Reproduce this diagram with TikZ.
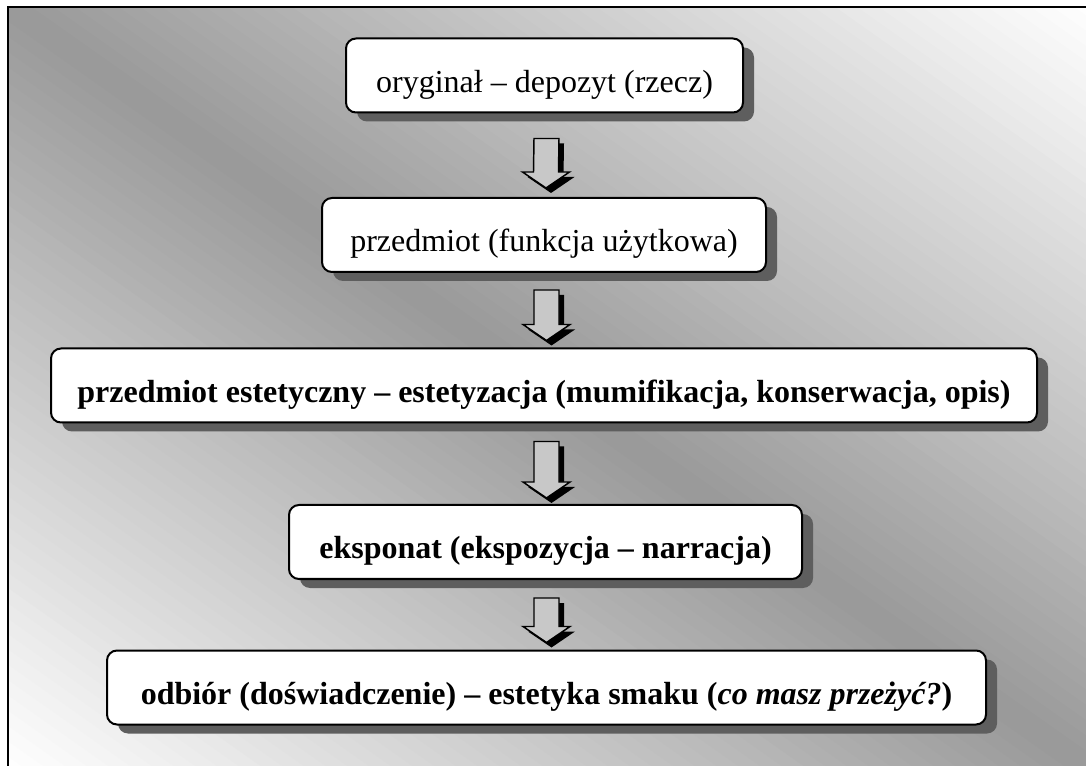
\documentclass[tikz,border=0pt]{standalone}
\usepackage{fontspec}
\setmainfont{Liberation Serif}
\usetikzlibrary{calc,shadows}
\definecolor{bgdark}{HTML}{999999}
\definecolor{shadowgray}{HTML}{5E5E5E}
\definecolor{arrowfill}{HTML}{C8C8C8}
\tikzset{
  stagebox/.style={draw=black, fill=white, line width=1.5pt, rounded corners=7.5pt,
    minimum height=55.5pt, inner sep=0pt, align=center,
    font=\fontsize{24}{28}\selectfont,
    drop shadow={shadow xshift=8.25pt, shadow yshift=-6.75pt, fill=shadowgray, opacity=1}},
  arrowshadow/.style={fill=black},
  arrowbody/.style={fill=arrowfill, draw=black, line width=1.1pt, line join=miter},
  framebox/.style={draw=black, line width=1.5pt}
}
\newcommand\lowered[1]{\raisebox{-6.75pt}[\height][\depth]{#1}}
\newcommand\blockarrow[2]{%
  \fill[arrowshadow] ($(#1)+(-7.5,5)$) -- ($(#1)+(17.5,5)$) -- ($(#2)+(17.5,-11)$)
    -- ($(#2)+(28.5,-11)$) -- ($(#2)+(5,5)$) -- ($(#2)+(-18.5,-11)$)
    -- ($(#2)+(-7.5,-11)$) -- cycle;
  \filldraw[arrowbody] ($(#1)+(-12.5,0)$) -- ($(#1)+(12.5,0)$) -- ($(#2)+(12.5,-16)$)
    -- ($(#2)+(23.5,-16)$) -- (#2) -- ($(#2)+(-23.5,-16)$)
    -- ($(#2)+(-12.5,-16)$) -- cycle;
}
\begin{document}
\begin{tikzpicture}[x=0.75pt, y=-0.75pt]
\useasboundingbox (0,0) rectangle (1086,766);
% background gradient
\begin{scope}
  \clip (8,7) rectangle (1095,775);
  \foreach \i in {0,...,99}{
    \pgfmathsetmacro\ta{-1+\i/50}
    \pgfmathsetmacro\tb{-1+(\i+1)/50+0.004}
    \pgfmathsetmacro\pc{100*abs(-1+(\i+0.5)/50)}
    \fill[white!\pc!bgdark] ({1086*(\ta-0.05)},{-0.05*766}) -- ({1086*(\ta+1.05)},{1.05*766})
      -- ({1086*(\tb+1.05)},{1.05*766}) -- ({1086*(\tb-0.05)},{-0.05*766}) -- cycle;
  }
\end{scope}
\draw[framebox] (8,7) rectangle (1100,780);
% boxes
\node[stagebox, minimum width=297.75pt] (b1) at (544.5,75.5)
  {\lowered{oryginał – depozyt (rzecz)}};
\node[stagebox, minimum width=333pt] (b2) at (544,235)
  {\lowered{przedmiot (funkcja użytkowa)}};
\node[stagebox, minimum width=739.5pt] (b3) at (544,385.5)
  {\lowered{\bfseries przedmiot estetyczny – estetyzacja (mumifikacja, konserwacja, opis)}};
\node[stagebox, minimum width=384.75pt] (b4) at (545.5,542)
  {\lowered{\bfseries eksponat (ekspozycja – narracja)}};
\node[stagebox, minimum width=659.25pt] (b5) at (546.5,687.5)
  {\lowered{\bfseries odbiór (doświadczenie) – estetyka smaku (\textit{co masz przeżyć?})}};
% arrows
\coordinate (a1t) at ($(b1.south)+(2,25)$);
\coordinate (a1p) at ($(b2.north)+(2,-9)$);
\coordinate (a2t) at ($(b2.south)+(2.5,17)$);
\coordinate (a2p) at ($(b3.north)+(2.5,-7)$);
\coordinate (a3t) at ($(b3.south)+(2.5,18)$);
\coordinate (a3p) at ($(b4.north)+(1,-6)$);
\coordinate (a4t) at ($(b4.south)+(1,18)$);
\coordinate (a4p) at ($(b5.north)+(0,-7)$);
\blockarrow{a1t}{a1p}
\blockarrow{a2t}{a2p}
\blockarrow{a3t}{a3p}
\blockarrow{a4t}{a4p}
\end{tikzpicture}
\end{document}
